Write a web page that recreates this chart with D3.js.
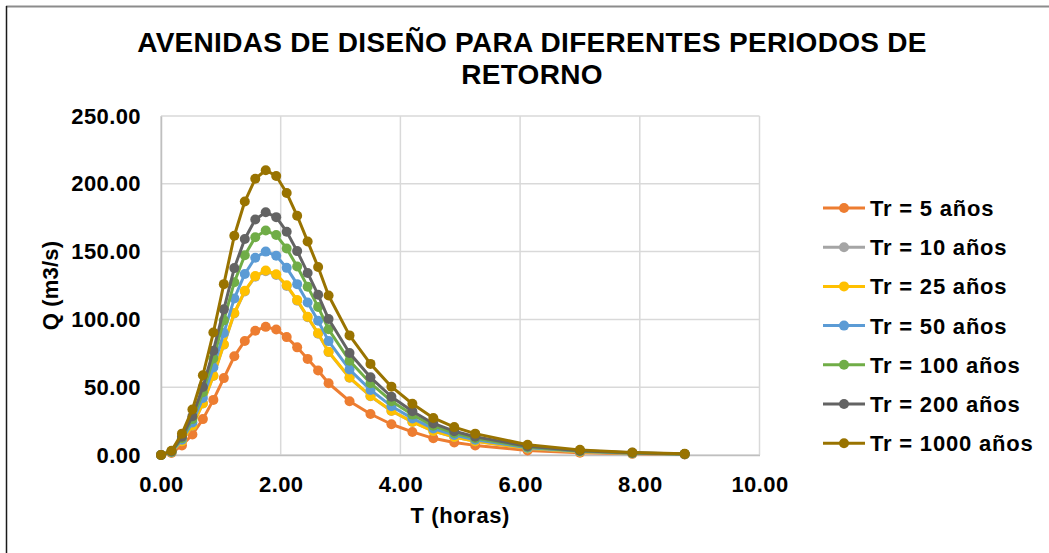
<!DOCTYPE html>
<html>
<head>
<meta charset="utf-8">
<script src="https://cdn.jsdelivr.net/npm/d3@7"></script>
<style>
  body { margin: 0; background: #fff; }
  text { font-family: "Liberation Sans", Arial, sans-serif; font-weight: bold; fill: #000; }
</style>
</head>
<body>
<svg id="canvas" width="1049" height="553"></svg>
<script>
// tiempo (horas)
const tiempo = [0, 0.175, 0.35, 0.525, 0.7, 0.875, 1.05, 1.225, 1.4, 1.575, 1.75, 1.925, 2.1, 2.275,
  2.45, 2.625, 2.8, 3.15, 3.5, 3.85, 4.2, 4.55, 4.9, 5.25, 6.125, 7.0, 7.875, 8.75]

// caudales (m3/s) por periodo de retorno
const tr5 = [0, 1.42, 7.09, 15.12, 26.46, 40.64, 56.70, 72.77, 84.11, 91.67, 94.50, 92.61, 86.94, 79.38,
  70.88, 62.37, 52.92, 39.69, 30.24, 22.68, 17.01, 12.29, 9.26, 7.09, 3.40, 1.70, 0.85, 0.38]
const tr10 = [0, 2.03, 10.16, 21.68, 37.94, 58.27, 81.30, 104.34, 120.60, 131.44, 135.50, 132.79, 124.66, 113.82,
  101.63, 89.43, 75.88, 56.91, 43.36, 32.52, 24.39, 17.62, 13.28, 10.16, 4.88, 2.44, 1.22, 0.54]
const tr25 = [0, 2.04, 10.20, 21.76, 38.08, 58.48, 81.60, 104.72, 121.04, 131.92, 136.00, 133.28, 125.12, 114.24,
  102.00, 89.76, 76.16, 57.12, 43.52, 32.64, 24.48, 17.68, 13.33, 10.20, 4.90, 2.45, 1.22, 0.54]
const tr50 = [0, 2.25, 11.25, 24.00, 42.00, 64.50, 90.00, 115.50, 133.50, 145.50, 150.00, 147.00, 138.00, 126.00,
  112.50, 99.00, 84.00, 63.00, 48.00, 36.00, 27.00, 19.50, 14.70, 11.25, 5.40, 2.70, 1.35, 0.60]
const tr100 = [0, 2.48, 12.41, 26.48, 46.34, 71.17, 99.30, 127.44, 147.30, 160.54, 165.50, 162.19, 152.26, 139.02,
  124.13, 109.23, 92.68, 69.51, 52.96, 39.72, 29.79, 21.52, 16.22, 12.41, 5.96, 2.98, 1.49, 0.66]
const tr200 = [0, 2.69, 13.43, 28.64, 50.12, 76.97, 107.40, 137.83, 159.31, 173.63, 179.00, 175.42, 164.68, 150.36,
  134.25, 118.14, 100.24, 75.18, 57.28, 42.96, 32.22, 23.27, 17.54, 13.43, 6.44, 3.22, 1.61, 0.72]
const tr1000 = [0, 3.15, 15.75, 33.60, 58.80, 90.30, 126.00, 161.70, 186.90, 203.70, 210.00, 205.80, 193.20, 176.40,
  157.50, 138.60, 117.60, 88.20, 67.20, 50.40, 37.80, 27.30, 20.58, 15.75, 7.56, 3.78, 1.89, 0.84]

const nombres = ["Tr = 5 años", "Tr = 10 años", "Tr = 25 años", "Tr = 50 años", "Tr = 100 años", "Tr = 200 años", "Tr = 1000 años"]
const colores = ["#ED7D31", "#A5A5A5", "#FFC000", "#5B9BD5", "#70AD47", "#636363", "#997300"]
const xTicks = [0, 2, 4, 6, 8, 10]
const yTicks = [0, 50, 100, 150, 200, 250]

const series = [tr5, tr10, tr25, tr50, tr100, tr200, tr1000].map((vals, i) => ({
  name: nombres[i],
  color: colores[i],
  points: vals.map((q, j) => ({t: tiempo[j], q}))
}))

const svg = d3.select('#canvas')

// marco del grafico
svg.append('line').attr('x1', 6).attr('x2', 1049).attr('y1', 6.5).attr('y2', 6.5)
  .attr('stroke', '#8c8c8c').attr('stroke-width', 2)
svg.append('line').attr('x1', 6.5).attr('x2', 6.5).attr('y1', 6).attr('y2', 553)
  .attr('stroke', '#1a1a1a').attr('stroke-width', 1.5)

// titulo
const title = svg.append('text').attr('text-anchor', 'middle')
  .style('font-size', '28px').style('letter-spacing', '0.3px')
title.append('tspan').attr('x', 532).attr('y', 52).text('AVENIDAS DE DISEÑO PARA DIFERENTES PERIODOS DE')
title.append('tspan').attr('x', 532).attr('y', 84).text('RETORNO')

const x = d3.scaleLinear().domain([0, 10]).range([161, 759.5])
const y = d3.scaleLinear().domain([0, 250]).range([455, 116])

// grid
svg.append('g').selectAll('line').data(yTicks).enter().append('line')
  .attr('x1', x(0)).attr('x2', x(10))
  .attr('y1', d => y(d)).attr('y2', d => y(d))
  .attr('stroke', '#d9d9d9').attr('stroke-width', 1.5)
svg.append('g').selectAll('line').data(xTicks).enter().append('line')
  .attr('x1', d => x(d)).attr('x2', d => x(d))
  .attr('y1', y(0)).attr('y2', y(250))
  .attr('stroke', '#d9d9d9').attr('stroke-width', 1.5)

// ejes
const xAxis = svg.append('g').attr('transform', `translate(0,${y(0)})`)
  .call(d3.axisBottom(x).tickValues(xTicks).tickFormat(d3.format('.2f')).tickSize(0).tickPadding(21))
const yAxis = svg.append('g').attr('transform', `translate(${x(0)},0)`)
  .call(d3.axisLeft(y).tickValues(yTicks).tickFormat(d3.format('.2f')).tickSize(0).tickPadding(20))
xAxis.select('.domain').attr('stroke', '#bfbfbf').attr('stroke-width', 1.5)
yAxis.select('.domain').attr('stroke', '#bfbfbf').attr('stroke-width', 1.5)
svg.selectAll('.tick text')
  .attr('fill', '#000')
  .style('font-family', '"Liberation Sans", Arial, sans-serif')
  .style('font-weight', 'bold')
  .style('font-size', '22px')
  .style('letter-spacing', '0.4px')

// titulos de ejes
svg.append('text').attr('x', x(5)).attr('y', 523).attr('text-anchor', 'middle')
  .style('font-size', '22px').style('letter-spacing', '0.6px').text('T (horas)')
svg.append('text').attr('transform', `translate(58,${y(125)}) rotate(-90)`).attr('text-anchor', 'middle')
  .style('font-size', '22px').style('letter-spacing', '0.2px').text('Q (m3/s)')

// curvas
const line = d3.line().x(d => x(d.t)).y(d => y(d.q))
series.forEach(s => {
  const g = svg.append('g')
  g.append('path').datum(s.points)
    .attr('d', line)
    .attr('fill', 'none')
    .attr('stroke', s.color)
    .attr('stroke-width', 3)
    .attr('stroke-linejoin', 'round')
  g.selectAll('circle').data(s.points).enter().append('circle')
    .attr('cx', d => x(d.t))
    .attr('cy', d => y(d.q))
    .attr('r', 5)
    .attr('fill', s.color)
})

// leyenda
const legend = svg.append('g').selectAll('g').data(series).enter().append('g')
  .attr('transform', (d, i) => `translate(0,${208 + i * 39.2})`)
legend.append('line').attr('x1', 823).attr('x2', 865).attr('y1', 0).attr('y2', 0)
  .attr('stroke', d => d.color).attr('stroke-width', 3)
legend.append('circle').attr('cx', 844).attr('cy', 0).attr('r', 5).attr('fill', d => d.color)
legend.append('text').attr('x', 870).attr('y', 8)
  .style('font-size', '22px').style('letter-spacing', '0.8px')
  .text(d => d.name)
</script>
</body>
</html>
